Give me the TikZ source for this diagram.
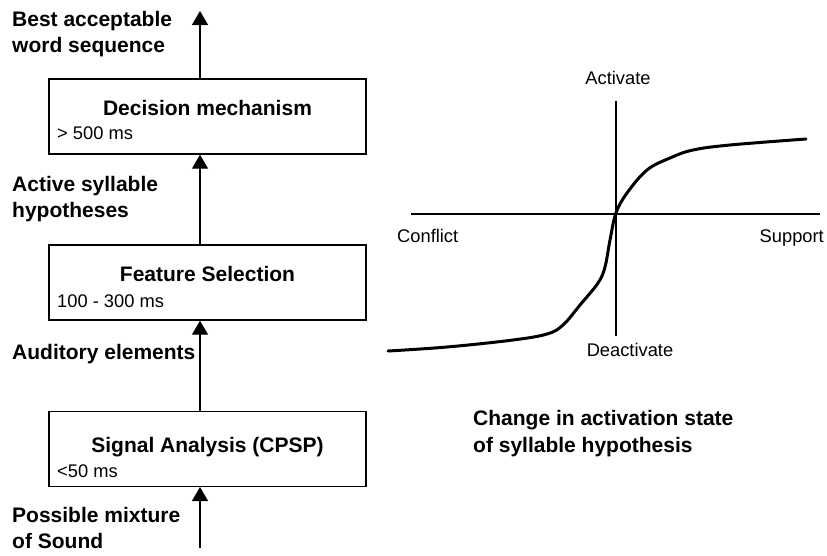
\documentclass[tikz,border=0pt]{standalone}
\usepackage{fontspec}
\setmainfont{Liberation Sans}
\usetikzlibrary{arrows.meta}

\begin{document}
\begin{tikzpicture}[x=1pt,y=-1pt,
    box/.style={draw,line width=1.4pt,minimum width=317pt,minimum height=75pt,inner sep=0pt},
    title/.style={font=\fontsize{21}{25.5}\selectfont\bfseries,inner sep=0pt,anchor=base},
    lbl/.style={font=\fontsize{21}{25.5}\selectfont\bfseries,inner sep=0pt,anchor=base west,align=left},
    txt/.style={font=\fontsize{18.3}{22}\selectfont,inner sep=0pt},
    up/.style={-{Triangle[width=16pt,length=14pt]},line width=1.3pt},
    axis/.style={line width=1.3pt},
    curve/.style={line width=3pt,line cap=round,line join=round}]
			%%%%% START %%%%%
			\useasboundingbox (0,0) rectangle (827,555);
			
			% boxes
			\node[box] (dec) at (207.5,116.5) {};
			\node[box] (feat) at (207.5,282.5) {};
			\node[box] (sig) at (207.5,448.8) {};
			
			\node[title] (dect) at (207.5,115) {Decision mechanism};
			\node[txt,anchor=base west] (decms) at (57,139) {> 500 ms};
			\node[title] (featt) at (207.5,281) {Feature Selection};
			\node[txt,anchor=base west] (featms) at (57,307) {100 - 300 ms};
			\node[title] (sigt) at (207.5,452) {Signal Analysis (CPSP)};
			\node[txt,anchor=base west] (sigms) at (57,477) {<50 ms};
			
			% arrows
			\coordinate (out) at (200,11);
			\coordinate (in) at (200,548);
			\draw[up] (in) -- (in |- sig.south);
			\draw[up] (in |- sig.north) -- (in |- feat.south);
			\draw[up] (in |- feat.north) -- (in |- dec.south);
			\draw[up] (out |- dec.north) -- (out);
			
			% labels (base = last line)
			\node[lbl] (best) at (12,52) {Best acceptable\\word sequence};
			\node[lbl] (active) at (12,217) {Active syllable\\hypotheses};
			\node[lbl] (audit) at (12,359) {Auditory elements};
			\node[lbl] (mix) at (12,548) {Possible mixture\\of Sound};
			
			% activation graph
			\coordinate (conf) at (411,214);
			\coordinate (supp) at (820,214);
			\coordinate (act) at (616,101);
			\coordinate (deact) at (616,336);
			\draw[axis] (conf) -- (supp);
			\draw[axis] (act) -- (deact);
			
			\node[txt,anchor=base] (actl) at (618,84) {Activate};
			\node[txt,anchor=base] (deactl) at (630,356) {Deactivate};
			\node[txt,anchor=base west] (confl) at (397,242) {Conflict};
			\node[txt,anchor=base east] (suppl) at (824,242) {Support};
			
			\draw[curve] plot[smooth,tension=0.6] coordinates {(388,351) (447,347) (513,340) (547,334) (563,325) (580,305) (598,283) (605,267) (610,240) (616,213) (627,193) (647,170) (670,158) (693,150) (730,145) (806,139)};
			
			\node[lbl,font=\fontsize{21}{27}\selectfont\bfseries] (capt) at (473,452) {Change in activation state\\of syllable hypothesis};
			%%%%% END %%%%%
\end{tikzpicture}
\end{document}
